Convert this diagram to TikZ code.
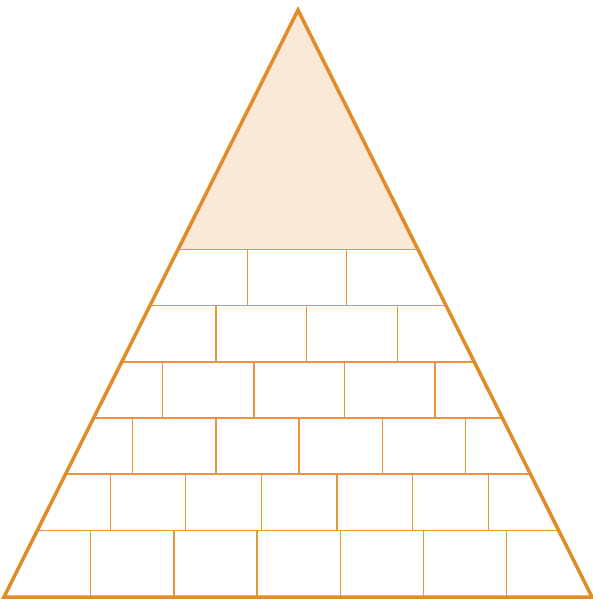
\documentclass[tikz,border=0pt]{standalone}
\usepackage{tikz}
\usepackage{xcolor}
\usetikzlibrary{calc}
\definecolor{pyOrange}{RGB}{225,140,40}
\definecolor{pyBrick}{RGB}{232,150,55}
\definecolor{pyCream}{RGB}{250,233,214}
\tikzset{
  brick/.style={draw=pyBrick,line width=1.4pt},
  outline/.style={draw=pyOrange,line width=3.5pt,line join=miter}
}

\begin{document}
\begin{tikzpicture}[x=1pt,y=-1pt]
  \useasboundingbox (0,0) rectangle (592,601);
  \coordinate (T) at (298,10); \coordinate (L) at (4,597); \coordinate (R) at (592,597);
  % row lines on the sides
  \coordinate (l1) at ($(T)!0.4077!(L)$); \coordinate (r1) at ($(T)!0.4077!(R)$);
  \coordinate (l2) at ($(T)!0.5037!(L)$); \coordinate (r2) at ($(T)!0.5037!(R)$);
  \coordinate (l3) at ($(T)!0.5997!(L)$); \coordinate (r3) at ($(T)!0.5997!(R)$);
  \coordinate (l4) at ($(T)!0.6951!(L)$); \coordinate (r4) at ($(T)!0.6951!(R)$);
  \coordinate (l5) at ($(T)!0.7905!(L)$); \coordinate (r5) at ($(T)!0.7905!(R)$);
  \coordinate (l6) at ($(T)!0.8864!(L)$); \coordinate (r6) at ($(T)!0.8864!(R)$);
  \fill[pyCream] (T)--(l1)--(r1)--cycle;
  \draw[brick] (l1)--(r1) (l2)--(r2) (l3)--(r3) (l4)--(r4) (l5)--(r5) (l6)--(r6);
  % bricks
  \draw[brick] (247.7,249.3)--(247.7,305.7) (346.7,249.3)--(346.7,305.7);
  \draw[brick] (216,305.7)--(216,362) (306.7,305.7)--(306.7,362) (397.3,305.7)--(397.3,362);
  \draw[brick] (162.7,362)--(162.7,418) (254,362)--(254,418) (344.3,362)--(344.3,418) (435,362)--(435,418);
  \draw[brick] (132.7,418)--(132.7,474) (216,418)--(216,474) (299,418)--(299,474)
    (382.3,418)--(382.3,474) (465.7,418)--(465.7,474);
  \draw[brick] (110.3,474)--(110.3,530.3) (185.7,474)--(185.7,530.3) (261.3,474)--(261.3,530.3)
    (337,474)--(337,530.3) (412.7,474)--(412.7,530.3) (488.3,474)--(488.3,530.3);
  \draw[brick] (90.7,530.3)--(90.7,597) (173.9,530.3)--(173.9,597) (257.1,530.3)--(257.1,597)
    (340.3,530.3)--(340.3,597) (423.5,530.3)--(423.5,597) (506.7,530.3)--(506.7,597);
  \draw[outline] (T)--(L)--(R)--cycle;
\end{tikzpicture}
\end{document}
